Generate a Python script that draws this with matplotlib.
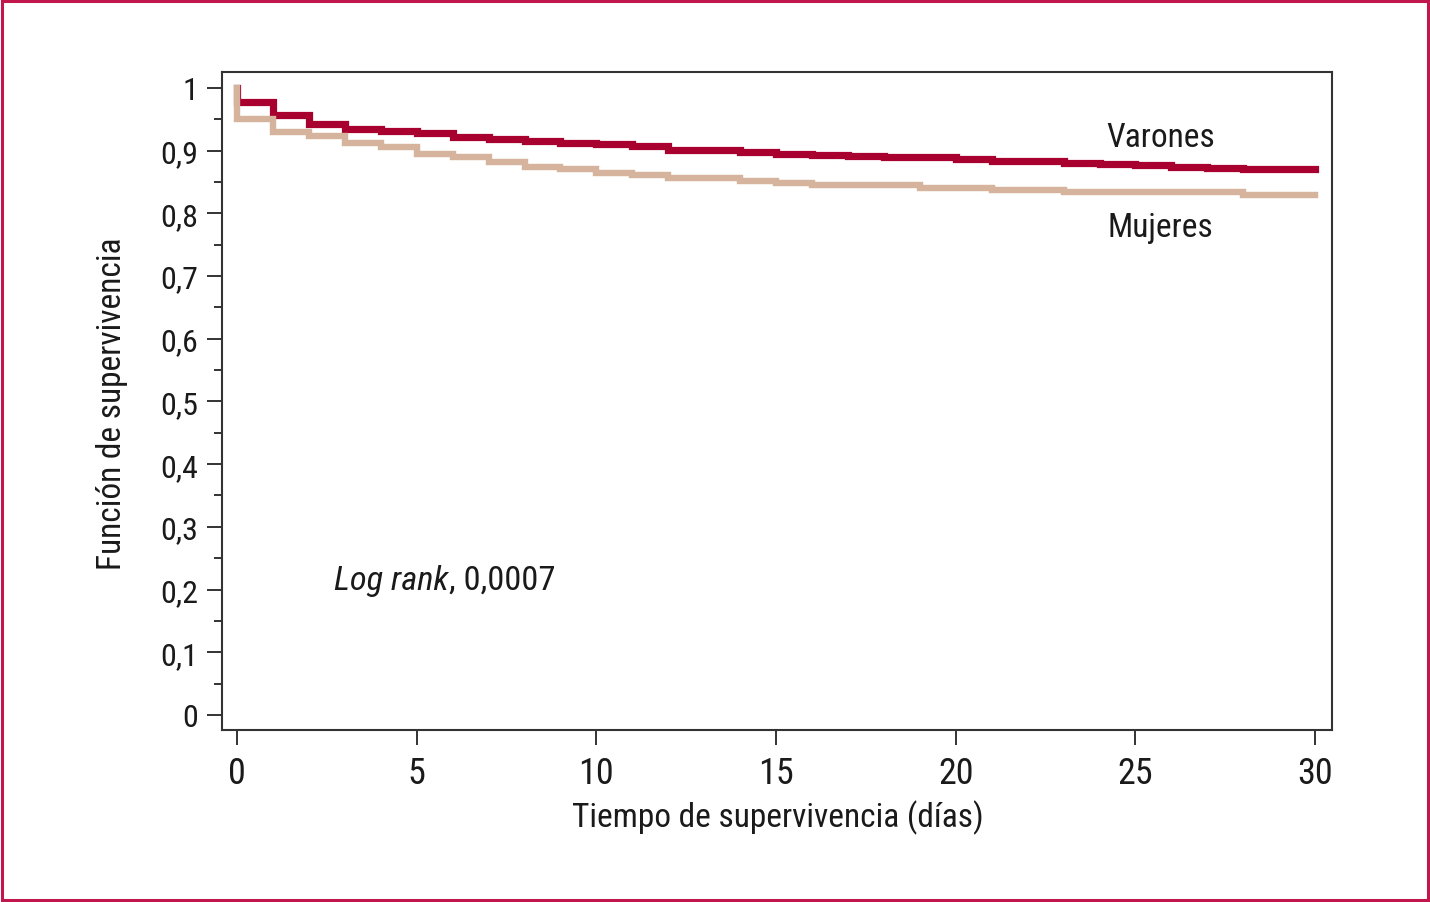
import matplotlib
matplotlib.use("Agg")
import matplotlib.pyplot as plt
import matplotlib.ticker as ticker
from matplotlib.patches import Rectangle

COLOR_VARONES = "#a8002f"
COLOR_MUJERES = "#d6b39c"
COLOR_AXIS = "#333333"
COLOR_BORDER = "#c2174c"
COLOR_TEXT = "#1a1a1a"

FONT = ["Roboto Condensed", "Archivo Narrow", "Barlow Semi Condensed", "DejaVu Sans"]

# survival value for each day interval [day, day + 1)
days = list(range(30))
varones = [0.978, 0.957, 0.943, 0.935, 0.931, 0.928, 0.921, 0.918, 0.916, 0.912,
           0.910, 0.907, 0.901, 0.901, 0.898, 0.895, 0.893, 0.892, 0.890, 0.890,
           0.886, 0.884, 0.883, 0.880, 0.879, 0.877, 0.874, 0.873, 0.871, 0.870]
mujeres = [0.951, 0.930, 0.924, 0.912, 0.906, 0.895, 0.890, 0.882, 0.874, 0.870,
           0.865, 0.861, 0.856, 0.856, 0.851, 0.848, 0.845, 0.845, 0.845, 0.841,
           0.841, 0.837, 0.837, 0.834, 0.834, 0.834, 0.834, 0.834, 0.830, 0.830]
x_ticks = [0, 5, 10, 15, 20, 25, 30]
y_ticks = [0, 0.1, 0.2, 0.3, 0.4, 0.5, 0.6, 0.7, 0.8, 0.9, 1]
y_labels = ["0", "0,1", "0,2", "0,3", "0,4", "0,5", "0,6", "0,7", "0,8", "0,9", "1"]


def step_xy(values, start=1.0, end=30):
    # start at 1 at day 0, drop at day 0, then step each day, hold to the end
    xs = [0] + days + [end]
    ys = [start] + values + [values[-1]]
    return xs, ys


fig = plt.figure(figsize=(14.3, 9.03), dpi=100)
ax = fig.add_axes([0.1552, 0.1905, 0.7763, 0.7287])

xv, yv = step_xy(varones)
xm, ym = step_xy(mujeres)
ax.step(xv, yv, where="post", color=COLOR_VARONES, lw=5.2, solid_joinstyle="miter")
ax.step(xm, ym, where="post", color=COLOR_MUJERES, lw=4.6, solid_joinstyle="miter")

ax.set_xlim(-0.42, 30.47)
ax.set_ylim(-0.024, 1.0255)

ax.set_xticks(x_ticks)
ax.set_xticklabels([str(t) for t in x_ticks], family=FONT, fontsize=26)
ax.set_yticks(y_ticks)
ax.set_yticklabels(y_labels, family=FONT, fontsize=23)
ax.yaxis.set_minor_locator(ticker.MultipleLocator(0.05))

ax.tick_params(axis="both", which="major", direction="out", length=10.8,
               width=1.4, color=COLOR_AXIS, labelcolor=COLOR_TEXT)
ax.tick_params(axis="x", which="major", pad=7)
ax.tick_params(axis="y", which="major", pad=6)
ax.tick_params(axis="y", which="minor", direction="out", length=5.5,
               width=1.4, color=COLOR_AXIS)
for side in ax.spines.values():
    side.set_linewidth(1.5)
    side.set_color(COLOR_AXIS)

ax.set_xlabel("Tiempo de supervivencia (días)", family=FONT, fontsize=24,
              color=COLOR_TEXT, va="center")
ax.xaxis.set_label_coords(0.501, -0.132)
ax.set_ylabel("Función de supervivencia", family=FONT, fontsize=24,
              color=COLOR_TEXT, va="center")
ax.yaxis.set_label_coords(-0.099, 0.498)

ax.text(25.69, 0.922, "Varones", family=FONT, fontsize=24, color=COLOR_TEXT,
        ha="center", va="center")
ax.text(25.69, 0.778, "Mujeres", family=FONT, fontsize=24, color=COLOR_TEXT,
        ha="center", va="center")
t_log = ax.text(2.7, 0.201, "Log rank", family=FONT, fontsize=24.8, style="italic",
                color=COLOR_TEXT, ha="left", va="baseline")
ax.annotate(", 0,0007", xy=(1, 0), xycoords=t_log, family=FONT, fontsize=24.8,
            color=COLOR_TEXT, ha="left", va="bottom")

fig.patches.append(Rectangle((0.0015, 0.0025), 0.997, 0.995, transform=fig.transFigure,
                             fill=False, edgecolor=COLOR_BORDER, linewidth=2.2))

fig.savefig("out.png", dpi=100, facecolor="white")
